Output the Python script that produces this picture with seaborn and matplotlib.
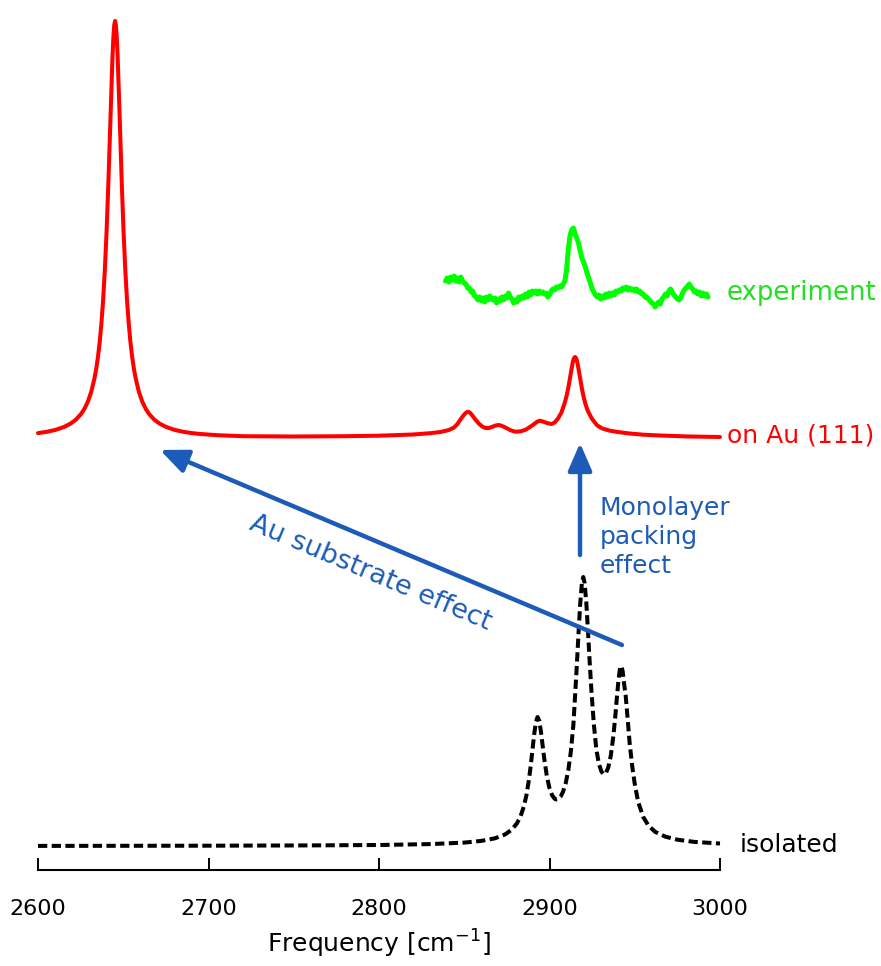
import numpy as np
import matplotlib
matplotlib.use("Agg")
import matplotlib.pyplot as plt
import seaborn as sns

# ---- spectra: (frequency in cm^-1, intensity in arbitrary units) ----
isolated_pts = [
    (2600.0, 0.1), (2700.0, 0.3), (2760.0, 0.6), (2800.0, 1.0), (2830.0, 1.9),
    (2850.0, 3.4), (2860.0, 5.1), (2868.0, 7.7), (2874.0, 11.6), (2878.0, 16.5),
    (2881.0, 22.9), (2883.0, 29.6), (2885.0, 39.8), (2886.5, 51.1), (2888.0, 67.0),
    (2889.0, 80.5), (2890.0, 95.9), (2891.0, 111.4), (2892.0, 123.8), (2893.0, 129.0),
    (2894.0, 125.2), (2895.0, 114.2), (2896.0, 100.1), (2897.0, 86.2), (2898.5, 69.3),
    (2900.0, 57.8), (2901.5, 50.8), (2903.0, 47.3), (2904.0, 46.5), (2905.0, 46.8),
    (2906.5, 49.3), (2908.0, 54.5), (2909.5, 62.8), (2911.0, 75.4), (2912.5, 94.0),
    (2914.0, 121.0), (2915.0, 150.0), (2916.0, 180.0), (2917.0, 212.0), (2918.0, 242.0),
    (2919.0, 263.0), (2919.8, 269.0), (2920.6, 263.0), (2921.6, 243.0), (2922.6, 214.0),
    (2923.6, 183.0), (2924.6, 155.0), (2926.0, 122.0), (2927.5, 96.1), (2929.0, 82.0),
    (2930.5, 74.3), (2931.8, 71.7), (2933.0, 72.6), (2934.5, 78.7), (2936.0, 90.8),
    (2937.5, 110.7), (2938.5, 128.2), (2939.5, 148.1), (2940.5, 166.5), (2941.3, 176.8),
    (2942.1, 180.0), (2942.9, 175.0), (2943.7, 163.0), (2944.7, 150.0), (2945.7, 130.0),
    (2947.0, 103.0), (2948.5, 80.0), (2950.0, 62.0), (2952.0, 44.0), (2955.0, 29.0),
    (2958.0, 20.5), (2962.0, 14.1), (2968.0, 9.3), (2975.0, 6.3), (2985.0, 4.1),
    (3000.0, 2.5),
]

au_pts = [
    (2600.0, 4.9), (2605.2, 6.2), (2610.2, 8.1), (2615.2, 11.0), (2619.2, 14.5),
    (2622.2, 18.3), (2625.2, 23.9), (2627.2, 29.1), (2629.2, 36.2), (2631.2, 46.0),
    (2633.2, 60.2), (2634.2, 69.7), (2635.2, 81.5), (2636.2, 96.2), (2637.2, 114.8),
    (2638.2, 138.2), (2639.2, 168.0), (2639.7, 185.8), (2640.2, 205.5), (2640.7, 227.5),
    (2641.2, 251.4), (2641.7, 277.3), (2642.2, 304.3), (2642.7, 331.7), (2643.2, 358.1),
    (2643.7, 381.7), (2644.2, 400.5), (2644.7, 412.7), (2645.2, 417.0), (2645.7, 412.7),
    (2646.2, 400.5), (2646.7, 381.7), (2647.2, 358.1), (2647.7, 331.7), (2648.2, 304.3),
    (2648.7, 277.3), (2649.2, 251.4), (2649.7, 227.5), (2650.2, 205.5), (2650.7, 185.8),
    (2651.2, 168.0), (2652.2, 138.2), (2653.2, 114.8), (2654.2, 96.2), (2655.2, 81.5),
    (2656.2, 69.7), (2657.2, 60.2), (2659.2, 46.0), (2661.2, 36.2), (2663.2, 29.1),
    (2665.2, 23.9), (2668.2, 18.3), (2671.2, 14.5), (2675.2, 11.0), (2680.2, 8.1),
    (2685.2, 6.2), (2690.2, 4.9), (2695.2, 4.0), (2705.2, 2.8), (2720.2, 1.8),
    (2750.0, 1.5), (2780.0, 1.8), (2800.0, 2.3), (2820.0, 3.5), (2830.0, 4.8),
    (2836.0, 6.0), (2841.0, 8.0), (2844.0, 10.5), (2846.0, 14.0), (2848.0, 19.0),
    (2849.5, 22.5), (2851.0, 25.3), (2852.2, 26.3), (2853.4, 25.3), (2855.0, 22.0),
    (2856.5, 18.5), (2858.5, 14.5), (2860.5, 11.5), (2862.5, 10.0), (2864.5, 10.0),
    (2866.5, 11.2), (2868.5, 12.5), (2870.0, 13.0), (2871.5, 12.5), (2873.5, 11.0),
    (2875.5, 9.3), (2877.5, 7.5), (2880.0, 6.3), (2883.0, 6.6), (2886.0, 8.3),
    (2889.0, 11.5), (2891.5, 14.7), (2893.0, 16.5), (2894.4, 17.3), (2896.0, 16.5),
    (2898.0, 15.3), (2900.0, 14.3), (2901.3, 14.0), (2903.0, 15.5), (2905.0, 19.5),
    (2907.0, 25.5), (2909.0, 35.5), (2910.0, 42.0), (2911.0, 50.0), (2911.5, 55.0),
    (2912.0, 60.0), (2912.5, 65.0), (2913.0, 70.0), (2913.5, 74.5), (2914.0, 78.0),
    (2914.5, 80.3), (2915.0, 81.0), (2915.5, 80.2), (2916.0, 77.8), (2916.5, 74.1),
    (2917.0, 69.5), (2917.5, 64.5), (2918.0, 59.3), (2918.5, 54.3), (2919.0, 49.5),
    (2920.0, 41.2), (2921.0, 34.5), (2922.0, 29.3), (2923.0, 25.3), (2925.0, 19.0),
    (2928.0, 12.5), (2931.0, 9.5), (2935.0, 7.5), (2940.0, 6.0), (2947.0, 4.5),
    (2955.0, 3.3), (2965.0, 2.5), (2980.0, 1.6), (3000.0, 1.0),
]

# measured trace, one sample per cm^-1 starting at 2839 cm^-1
exp_start = 2839
exp_y = [19, 22, 18, 23, 20, 24, 19, 22, 18, 23,
         19, 17, 16, 12, 12, 8, 9, 4, 3, 0,
         3, -1, 2, -2, 3, 0, 4, 1, 0, 2,
         -3, 1, -1, 3, 0, 4, 2, 7, 3, 1,
         -3, 0, -2, 3, 1, 4, 2, 6, 3, 8,
         5, 9, 7, 9, 6, 9, 7, 8, 6, 7,
         3, 5, 9, 11, 10, 13, 12, 14, 13, 16,
         19, 30, 50, 64, 70, 72, 66, 62, 57, 49,
         42, 38, 33, 27, 22, 17, 11, 8, 5, 3,
         5, 1, 4, 2, 6, 3, 7, 4, 7, 5,
         9, 8, 10, 9, 12, 11, 13, 10, 12, 10,
         11, 9, 11, 8, 9, 6, 6, 3, 3, 1,
         -1, -3, -4, -7, -4, -2, -4, 1, 3, 6,
         4, 9, 11, 8, 5, 3, 1, 0, 2, 7,
         10, 12, 14, 16, 13, 11, 8, 9, 6, 8,
         4, 7, 4, 6, 3]

tick_values = [2600, 2700, 2800, 2900, 3000]
labels = ["isolated", "on Au (111)", "experiment"]

iso_x, iso_y = map(np.array, zip(*isolated_pts))
au_x, au_y = map(np.array, zip(*au_pts))
exp_x = np.arange(exp_start, exp_start + len(exp_y))
exp_y = np.array(exp_y, dtype=float)

# vertical offsets of the stacked traces
off_iso, off_au, off_exp = 24.0, 432.0, 570.0

RED = "#ff0000"
GREEN = "#00ff00"
BLUE = "#1c5cb8"

sns.set_style("white")
plt.rcParams["font.family"] = ["DejaVu Sans"]

fig = plt.figure(figsize=(8.81, 9.66), dpi=100)
ax = fig.add_axes([38 / 881, 96 / 966, 682 / 881, 870 / 966])

sns.lineplot(x=iso_x, y=iso_y + off_iso, ax=ax, color="black",
             lw=2.9, linestyle=(0, (2.3, 1.1)), clip_on=False)
sns.lineplot(x=au_x, y=au_y + off_au, ax=ax, color=RED, lw=2.9,
             clip_on=False)
sns.lineplot(x=exp_x, y=exp_y + off_exp, ax=ax, color=GREEN, lw=3.6,
             clip_on=False)

ax.set_xlim(2600, 3000)
ax.set_ylim(0, 870)
ax.set_xticks(tick_values)
ax.set_xticklabels([str(t) for t in tick_values], fontsize=16)
ax.set_yticks([])
for side in ("top", "right", "left"):
    ax.spines[side].set_visible(False)
ax.spines["bottom"].set_linewidth(1.5)
ax.spines["bottom"].set_color("black")
ax.tick_params(axis="x", bottom=True, direction="in", length=8.6, width=1.4,
               pad=21, colors="black")
ax.set_xlabel("Frequency [cm$^{-1}$]", fontsize=18, labelpad=6, color="black")
ax.patch.set_alpha(0)

# trace labels to the right of the axis
ax.text(3011.7, off_iso + 1, labels[0], fontsize=18, color="black",
        va="center", ha="left", clip_on=False)
ax.text(3004.1, off_au + 2, labels[1], fontsize=18, color=RED,
        va="center", ha="left", clip_on=False)
ax.text(3004.1, off_exp + 7, labels[2], fontsize=18.7, color="#22e022",
        va="center", ha="left", clip_on=False)

# arrows
arrow_style = "-|>,head_length=0.6,head_width=0.26"
ax.annotate("", xy=(2671.6, 420), xytext=(2942.5, 225),
            arrowprops=dict(arrowstyle=arrow_style, color=BLUE, lw=3.2,
                            mutation_scale=28, shrinkA=0, shrinkB=0))
ax.annotate("", xy=(2917.9, 427), xytext=(2917.9, 315),
            arrowprops=dict(arrowstyle=arrow_style, color=BLUE, lw=3.2,
                            mutation_scale=28, shrinkA=0, shrinkB=0))

ax.text(2794.7, 297, "Au substrate effect", fontsize=19.5, color=BLUE,
        rotation=-22.9, rotation_mode="anchor", ha="center", va="center")
ax.text(2929.6, 333, "Monolayer\npacking\neffect", fontsize=18, color=BLUE,
        ha="left", va="center", linespacing=1.25)

fig.savefig("out.png", dpi=100)
